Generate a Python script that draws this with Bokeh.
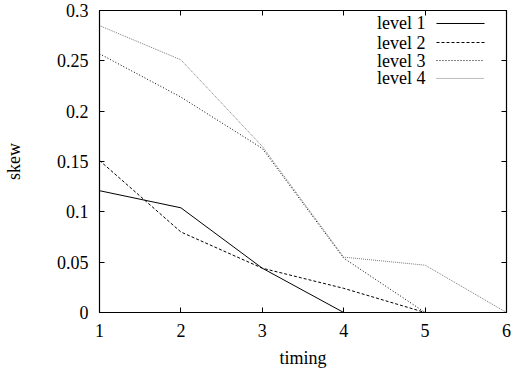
from bokeh.plotting import figure
from bokeh.models import LinearAxis, Label, FixedTicker, Range1d
from bokeh.embed import file_html
from bokeh.resources import INLINE

# ---- data ----
timing = [1, 2, 3, 4, 5, 6]
level1 = [0.121, 0.104, 0.044, 0.0, 0.0, 0.0]
level2 = [0.151, 0.080, 0.044, 0.024, 0.0, 0.0]
level3 = [0.257, 0.214, 0.163, 0.054, 0.0, 0.0]
level4 = [0.285, 0.251, 0.165, 0.055, 0.047, 0.0]
series_names = ["level 1", "level 2", "level 3", "level 4"]
x_ticks = [1, 2, 3, 4, 5, 6]
y_ticks = [0, 0.05, 0.1, 0.15, 0.2, 0.25, 0.3]
y_tick_labels = ["0", "0.05", "0.1", "0.15", "0.2", "0.25", "0.3"]

# ---- styles ----
FONT = "Liberation Serif, serif"
FS = "18px"
styles = [
    dict(color="black", dash="solid"),
    dict(color="black", dash="3 2"),
    dict(color="black", dash="1 2"),
    dict(color="#7a7a7a", dash="1 1"),
]

p = figure(width=511, height=370, output_backend="svg", toolbar_location=None,
           x_range=Range1d(1, 6), y_range=Range1d(0, 0.3),
           min_border_left=99, min_border_right=5, min_border_top=10, min_border_bottom=58)
p.background_fill_color = "white"
p.border_fill_color = "white"
p.grid.visible = False
p.outline_line_color = "black"
p.outline_line_width = 1.2

xaxis_main = p.below[0]
yaxis_main = p.left[0]
xaxis_main.ticker = FixedTicker(ticks=x_ticks)
yaxis_main.ticker = FixedTicker(ticks=y_ticks)
yaxis_main.major_label_overrides = {t: s for t, s in zip(y_ticks, y_tick_labels)}
xaxis_main.axis_label = "timing"
yaxis_main.axis_label = "skew"

x_top = LinearAxis(ticker=FixedTicker(ticks=x_ticks))
y_right = LinearAxis(ticker=FixedTicker(ticks=y_ticks))
p.add_layout(x_top, "above")
p.add_layout(y_right, "right")

for ax in [xaxis_main, yaxis_main, x_top, y_right]:
    ax.major_tick_in = 5
    ax.major_tick_out = 0
    ax.minor_tick_line_color = None
    ax.axis_line_color = "black"
    ax.major_tick_line_color = "black"
    ax.major_label_text_font = FONT
    ax.major_label_text_font_size = FS
    ax.major_label_text_color = "black"
    ax.axis_label_text_font = FONT
    ax.axis_label_text_font_size = FS
    ax.axis_label_text_font_style = "normal"
    ax.axis_label_text_color = "black"

for ax in [x_top, y_right]:
    ax.major_label_text_color = None
    ax.major_label_standoff = 0
    ax.major_label_text_font_size = "1px"

xaxis_main.major_label_standoff = 11
xaxis_main.axis_label_standoff = 8
yaxis_main.major_label_standoff = 11
yaxis_main.axis_label_standoff = 30

series = [level1, level2, level3, level4]
for vals, st in zip(series, styles):
    p.line(timing, vals, line_color=st["color"], line_dash=st["dash"], line_width=1)

# ---- key (label left of sample line, top right) ----
key_text_x = 5.005
key_line_x = [5.14, 5.73]
key_rows_y = [0.2871, 0.2682, 0.2503, 0.2325]
for name, st, ky in zip(series_names, styles, key_rows_y):
    p.add_layout(Label(x=key_text_x, y=ky, text=name, text_align="right",
                       text_baseline="middle", text_font=FONT, text_font_size=FS,
                       text_color="black"))
    p.line(key_line_x, [ky, ky], line_color=st["color"], line_dash=st["dash"], line_width=1)

open("out.html", "w").write(file_html(p, INLINE))
